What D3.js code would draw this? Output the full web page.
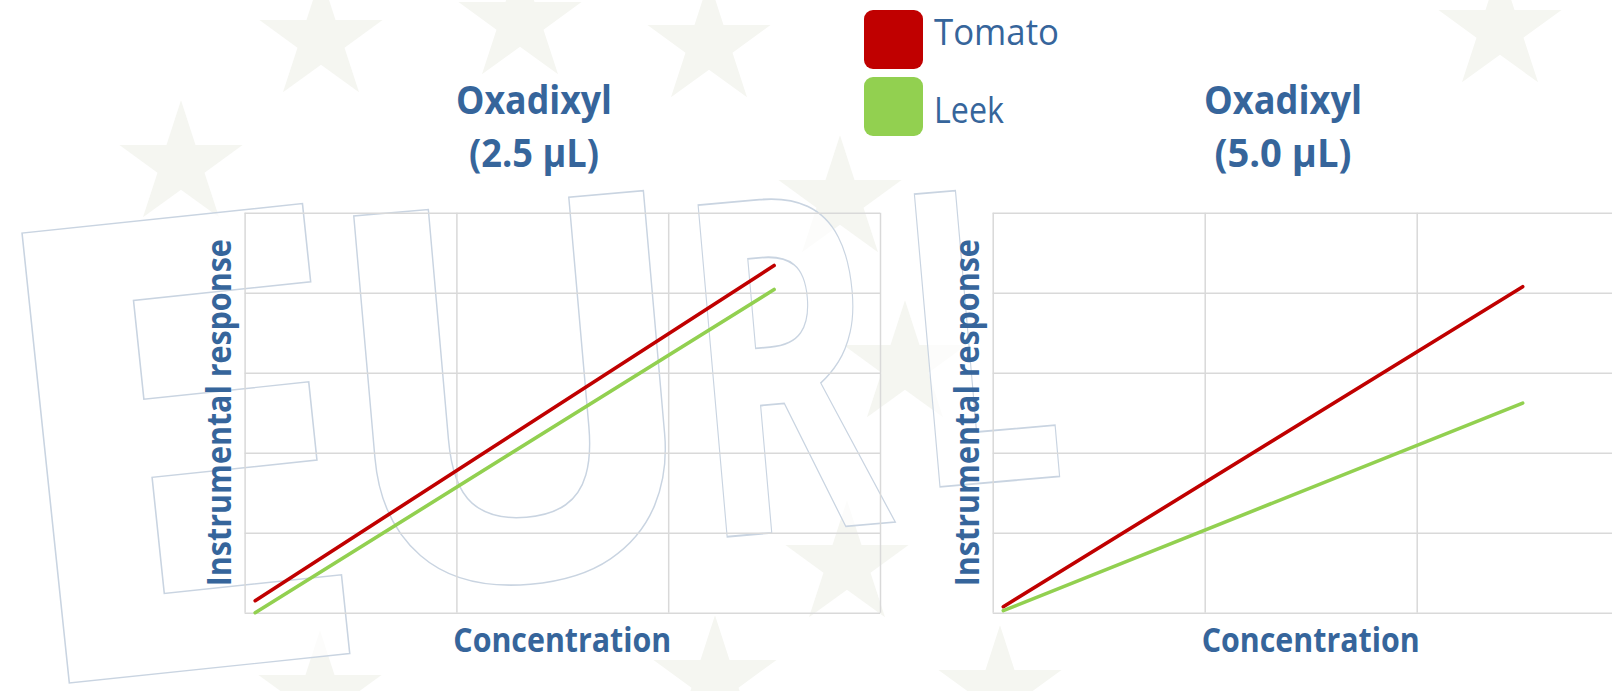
<!DOCTYPE html>
<html lang='en'>
<head>
  <meta charset='utf-8'>
  <title>Oxadixyl calibration</title>
  <script src='https://cdn.jsdelivr.net/npm/d3@7/dist/d3.min.js'></script>
  <style>
    body { margin: 0; background: #fff; }
    text { font-family: 'Open Sans', 'Noto Sans', sans-serif; }
  </style>
</head>
<body>
  <script>
    // data (arbitrary units: 1 = one grid cell)
    const concentration = [0.05, 2.5];
    const tomato25 = [0.15, 4.34];
    const leek25 = [0.0, 4.04];
    const tomato50 = [0.075, 4.075];
    const leek50 = [0.025, 2.62];
    const seriesNames = ["Tomato", "Leek"];
    const seriesColors = ["#c00000", "#92d050"];
    const xTicks = [0, 1, 2, 3];
    const yTicks = [0, 1, 2, 3, 4, 5];
    const titles = [["Oxadixyl", "(2.5 µL)"], ["Oxadixyl", "(5.0 µL)"]];

    const width = 1612, height = 691;
    const ink = "#36659b";
    const gridColor = "#d9d9d9";

    let svg = d3.select("body").append("svg")
      .attr("width", width)
      .attr("height", height);

    // background watermark: faint stars
    const starSpots = [[321, 40], [520, 22], [709, 45], [181, 165], [840, 200],
      [905, 365], [847, 565], [715, 680], [320, 695], [1000, 690], [1500, 30]];
    let star = d3.symbol().type(d3.symbolStar).size(4700);
    svg.append("g").selectAll("path").data(starSpots).join("path")
      .attr("d", star)
      .attr("transform", d => `translate(${d[0]},${d[1]})`)
      .attr("fill", "#f5f6f1");

    // background watermark: outlined EURL letters
    // lsb / ink = left bearing and ink width as parts of the glyph advance
    const letters = [
      { ch: "E", x: 60, y: 684, w: 290, h: 462, r: -6, lsb: 0.136, ink: 0.755 },
      { ch: "U", x: 382, y: 592, w: 300, h: 385, r: -5, lsb: 0.10, ink: 0.80 },
      { ch: "R", x: 724, y: 537, w: 168, h: 340, r: -5, lsb: 0.12, ink: 0.86 },
      { ch: "L", x: 938, y: 487, w: 120, h: 300, r: -5, lsb: 0.146, ink: 0.78 }
    ];
    let mark = svg.append("g");
    letters.forEach(l => {
      let fs = l.h / 0.729;
      let g = mark.append("g");
      let t = g.append("text").text(l.ch)
        .attr("font-family", "DejaVu Sans")
        .attr("font-weight", "bold")
        .attr("font-size", fs)
        .attr("fill", "#fff")
        .attr("fill-opacity", 0.7)
        .attr("stroke", "#c9d4e1")
        .attr("stroke-width", 1.5)
        .attr("vector-effect", "non-scaling-stroke");
      let adv = t.node().getComputedTextLength();
      let sx = l.w / (adv * l.ink);
      g.attr("transform",
        `translate(${l.x},${l.y}) rotate(${l.r}) scale(${sx},1) translate(${-l.lsb * adv},0)`);
    });

    // helper to stretch text to a measured width
    function fit(sel, len) {
      return sel.attr("textLength", len).attr("lengthAdjust", "spacingAndGlyphs");
    }

    const panels = [
      { x0: 244.6, x1: 880, tomato: tomato25, leek: leek25, title: titles[0],
        tx: 534, tw: [156, 130], ylx: 231 },
      { x0: 992.7, x1: 1628.7, tomato: tomato50, leek: leek50, title: titles[1],
        tx: 1283, tw: [158, 137], ylx: 979 }
    ];
    const plotTop = 212.7, plotBottom = 612.7;

    panels.forEach(p => {
      let x = d3.scaleLinear().domain([0, 3]).range([p.x0, p.x1]);
      let y = d3.scaleLinear().domain([0, 5]).range([plotBottom, plotTop]);
      let g = svg.append("g");

      // gridlines
      g.append("g")
        .attr("transform", `translate(0,${plotBottom})`)
        .call(d3.axisBottom(x).tickValues(xTicks).tickSize(-(plotBottom - plotTop)).tickFormat(""))
        .call(a => a.select(".domain").remove())
        .selectAll("line").attr("stroke", gridColor).attr("stroke-width", 1.5);
      g.append("g")
        .attr("transform", `translate(${p.x0},0)`)
        .call(d3.axisLeft(y).tickValues(yTicks).tickSize(-(p.x1 - p.x0)).tickFormat(""))
        .call(a => a.select(".domain").remove())
        .selectAll("line").attr("stroke", gridColor).attr("stroke-width", 1.5);

      // series lines
      let line = d3.line().x((d, i) => x(concentration[i])).y(d => y(d));
      [p.tomato, p.leek].forEach((vals, i) => {
        g.append("path")
          .datum(vals)
          .attr("d", line)
          .attr("fill", "none")
          .attr("stroke", seriesColors[i])
          .attr("stroke-width", 3.6)
          .attr("stroke-linecap", "round");
      });

      // titles
      p.title.forEach((s, i) => {
        fit(g.append("text").text(s)
          .attr("x", p.tx).attr("y", i ? 167 : 113.5)
          .attr("text-anchor", "middle")
          .attr("font-weight", "bold")
          .attr("font-size", 39)
          .attr("fill", ink), p.tw[i]);
      });

      // axis titles
      fit(g.append("text").text("Concentration")
        .attr("x", (p.x0 + p.x1) / 2).attr("y", 652)
        .attr("text-anchor", "middle")
        .attr("font-weight", "bold")
        .attr("font-size", 34)
        .attr("fill", ink), 218);
      fit(g.append("text").text("Instrumental response")
        .attr("transform", `translate(${p.ylx},${(plotTop + plotBottom) / 2}) rotate(-90)`)
        .attr("text-anchor", "middle")
        .attr("font-weight", "bold")
        .attr("font-size", 34)
        .attr("fill", ink), 347);
    });

    // legend
    let legend = svg.append("g").selectAll("g").data(seriesNames).join("g")
      .attr("transform", (d, i) => `translate(864,${10 + i * 67})`);
    legend.append("rect")
      .attr("width", 59).attr("height", 59).attr("rx", 9)
      .attr("fill", (d, i) => seriesColors[i]);
    legend.each(function (d, i) {
      fit(d3.select(this).append("text").text(d)
        .attr("x", 70).attr("y", i ? 45.5 : 35)
        .attr("font-size", 36)
        .attr("fill", ink), i ? 70 : 125);
    });
  </script>
</body>
</html>
